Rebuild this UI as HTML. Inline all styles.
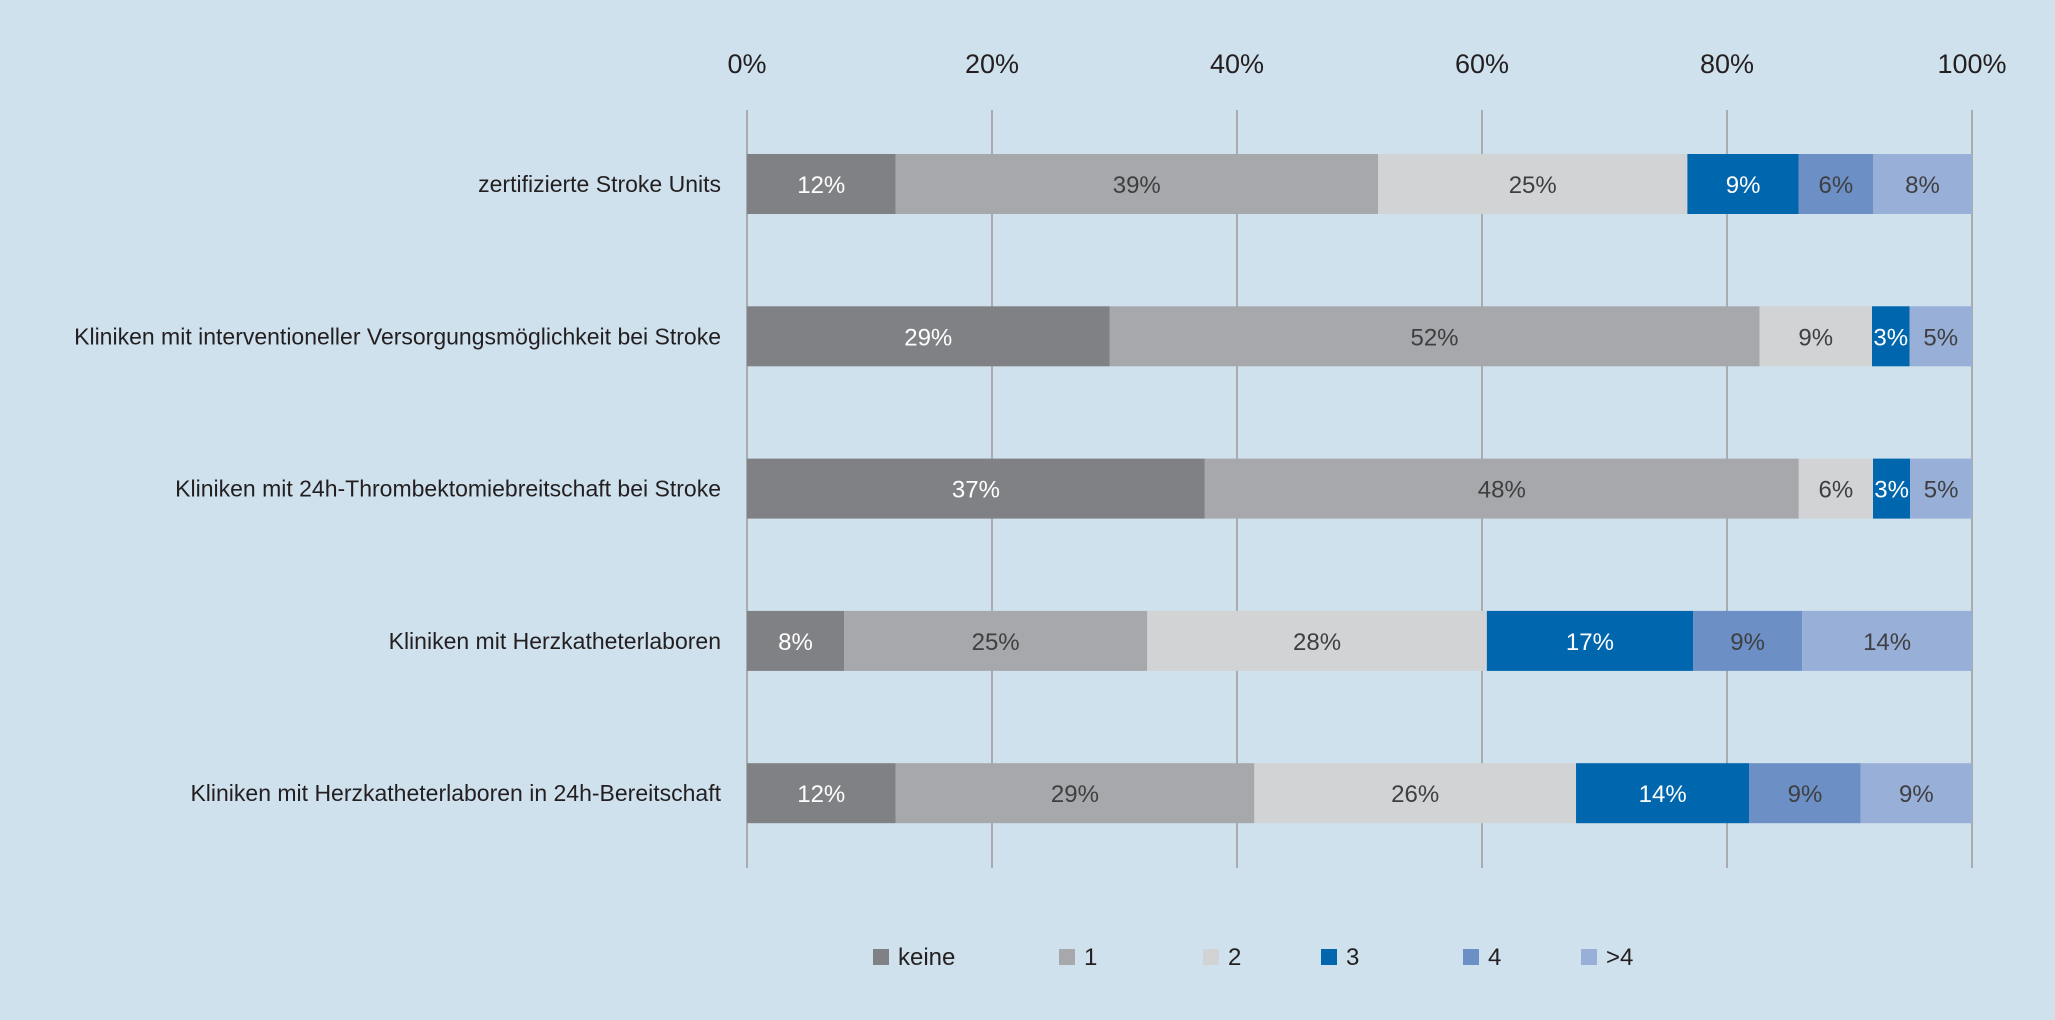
<!DOCTYPE html>
<html><head><meta charset="utf-8"><style>
html,body{margin:0;padding:0;background:#cfe1ed;}
svg{display:block;font-family:"Liberation Sans",sans-serif;}
</style></head><body>
<svg id="chart" width="2055" height="1020" viewBox="0 0 2055 1020" xmlns="http://www.w3.org/2000/svg">
<rect width="2055" height="1020" fill="#cfe1ed"/>
<g id="grid"></g><g id="bars"></g><g id="labels"></g><g id="legend"></g>
</svg>
<script>
const categories = ["zertifizierte Stroke Units","Kliniken mit interventioneller Versorgungsmöglichkeit bei Stroke","Kliniken mit 24h-Thrombektomiebreitschaft bei Stroke","Kliniken mit Herzkatheterlaboren","Kliniken mit Herzkatheterlaboren in 24h-Bereitschaft"];
const seriesNames = ["keine","1","2","3","4",">4"];
const keine = [12,29,37,8,12];
const eins = [39,52,48,25,29];
const zwei = [25,9,6,28,26];
const drei = [9,3,3,17,14];
const vier = [6,0,0,9,9];
const mehr = [8,5,5,14,9];
const tickLabels = ["0%","20%","40%","60%","80%","100%"];
const tickValues = [0,20,40,60,80,100];

const series = [keine,eins,zwei,drei,vier,mehr];
const colors = ["#808184","#a7a8ab","#d2d3d5","#0066ad","#6c8fc5","#98afd8"];
const textColors = ["#ffffff","#3f3f41","#3f3f41","#ffffff","#3f3f41","#3f3f41"];
const NS = "http://www.w3.org/2000/svg";
const X0 = 747, X1 = 1972;
const xScale = v => X0 + (X1 - X0) * v / 100;
const yTop0 = 154, rowStep = 152.3, barH = 60;
const yScale = i => yTop0 + i * rowStep;
function mk(tag, attrs, parent){const e=document.createElementNS(NS,tag);for(const k in attrs)e.setAttribute(k,attrs[k]);parent.appendChild(e);return e;}
const grid=document.getElementById('grid'), bars=document.getElementById('bars'), labels=document.getElementById('labels'), legend=document.getElementById('legend');

tickValues.forEach((t,i)=>{
  const x=xScale(t);
  const l=mk('line',{x1:x,x2:x,y1:110,y2:868,stroke:'#a9abae','stroke-width':2},grid);
  
  
  const tx=mk('text',{x:x,y:73,'text-anchor':'middle','font-size':27,fill:'#231f20'},grid);
  tx.textContent=tickLabels[i];
  
  
});

categories.forEach((c,i)=>{
  const y=yScale(i);
  const tx=mk('text',{x:721,y:y+barH/2+8,'text-anchor':'end','font-size':23,fill:'#231f20'},labels);
  tx.textContent=c;
  
  
  let total=0; series.forEach(s=>total+=s[i]);
  let acc=0;
  series.forEach((s,k)=>{
    const v=s[i];
    if(v<=0) return;
    const xa=xScale(acc/total*100), xb=xScale((acc+v)/total*100);
    acc+=v;
    const r=mk('rect',{x:xa,y:y,width:xb-xa,height:barH,fill:colors[k]},bars);
    
    
    const vt=mk('text',{x:(xa+xb)/2,y:y+barH/2+9,'text-anchor':'middle','font-size':24,fill:textColors[k]},bars);
    vt.textContent=v+'%';
    
    
  });
});

const legendX=[873,1059,1203,1321,1463,1581];
seriesNames.forEach((n,k)=>{
  const g=mk('g',{},legend);
  
  
  mk('rect',{x:legendX[k],y:949,width:16,height:16,fill:colors[k]},g);
  const t=mk('text',{x:legendX[k]+25,y:965,'font-size':24,fill:'#231f20'},g);
  t.textContent=n;
});
</script>
</body></html>
